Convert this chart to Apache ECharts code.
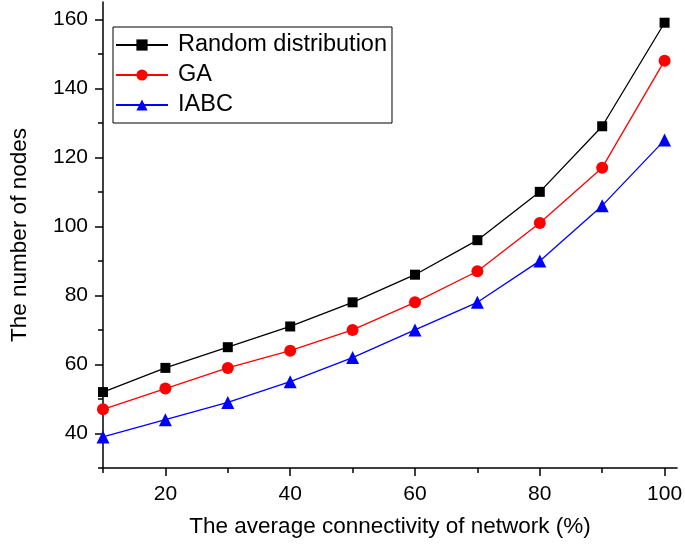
<!DOCTYPE html>
<html><head><meta charset="utf-8">
<script src="https://cdn.jsdelivr.net/npm/echarts@6/dist/echarts.min.js"></script>
<style>html,body{margin:0;padding:0;background:#fff}#c{width:685px;height:549px}</style>
</head><body><div id="c"></div>
<script>
const xValues = [10, 20, 30, 40, 50, 60, 70, 80, 90, 100];
const randomDist = [52, 59, 65, 71, 78, 86, 96, 110, 129, 159];
const gaValues = [47, 53, 59, 64, 70, 78, 87, 101, 117, 148];
const iabcValues = [39, 44, 49, 55, 62, 70, 78, 90, 106, 125];
const xMajor = [20, 40, 60, 80, 100];
const xMinor = [10, 30, 50, 70, 90];
const yMajor = [40, 60, 80, 100, 120, 140, 160];
const yMinor = [30, 50, 70, 90, 110, 130, 150];

const font = 'Arial, "Liberation Sans", sans-serif';
const chart = echarts.init(document.getElementById('c'));
function pairs(v){ return xValues.map((x,i)=>[x,v[i]]); }
const axLine = {show:true, lineStyle:{color:'#000', width:1.5}};
chart.setOption({
  animation:false,
  grid:{left:98, top:2, right:7, bottom:81, containLabel:false},
  legend:{
    orient:'vertical', left:113, top:27, padding:[6,5,6,2],
    borderColor:'#000', borderWidth:1, itemWidth:52, itemHeight:14, itemGap:6,
    textStyle:{fontFamily:font, fontSize:23.5, color:'#000', lineHeight:23, padding:[0,0,0,5]},
    data:['Random distribution','GA','IABC']
  },
  xAxis:[
    {type:'value', min:10, max:102, interval:10,
     name:'The average connectivity of network (%)', nameLocation:'middle', nameGap:47,
     nameTextStyle:{fontFamily:font, fontSize:22.5, color:'#000'},
     axisLine:axLine, splitLine:{show:false},
     axisTick:{show:true, length:8, customValues:xMajor, lineStyle:{color:'#000', width:1.5}},
     axisLabel:{customValues:xMajor, fontFamily:font, fontSize:21, color:'#000', margin:16}},
    {type:'value', min:10, max:102, interval:10, position:'bottom', gridIndex:0,
     axisLine:{show:false}, splitLine:{show:false}, axisLabel:{show:false},
     axisTick:{show:true, length:5, customValues:xMinor, lineStyle:{color:'#000', width:1.5}}}
  ],
  yAxis:[
    {type:'value', min:30, max:165, interval:10,
     name:'The number of nodes', nameLocation:'middle', nameGap:72, nameRotate:90,
     nameTextStyle:{fontFamily:font, fontSize:22.5, color:'#000'},
     axisLine:axLine, splitLine:{show:false},
     axisTick:{show:true, length:8, customValues:yMajor, lineStyle:{color:'#000', width:1.5}},
     axisLabel:{customValues:yMajor, fontFamily:font, fontSize:21, color:'#000', margin:15}},
    {type:'value', min:30, max:165, interval:10, position:'left',
     axisLine:{show:false}, splitLine:{show:false}, axisLabel:{show:false},
     axisTick:{show:true, length:5, customValues:yMinor, lineStyle:{color:'#000', width:1.5}}}
  ],
  series:[
    {name:'Random distribution', type:'line', data:pairs(randomDist), symbol:'rect', symbolSize:10,
     lineStyle:{color:'#000', width:1.3}, itemStyle:{color:'#000'}},
    {name:'GA', type:'line', data:pairs(gaValues), symbol:'circle', symbolSize:12,
     lineStyle:{color:'#ff0000', width:1.3}, itemStyle:{color:'#ff0000'}},
    {name:'IABC', type:'line', data:pairs(iabcValues), symbol:'triangle', symbolSize:13,
     lineStyle:{color:'#0000ff', width:1.3}, itemStyle:{color:'#0000ff'}}
  ]
});
</script></body></html>
